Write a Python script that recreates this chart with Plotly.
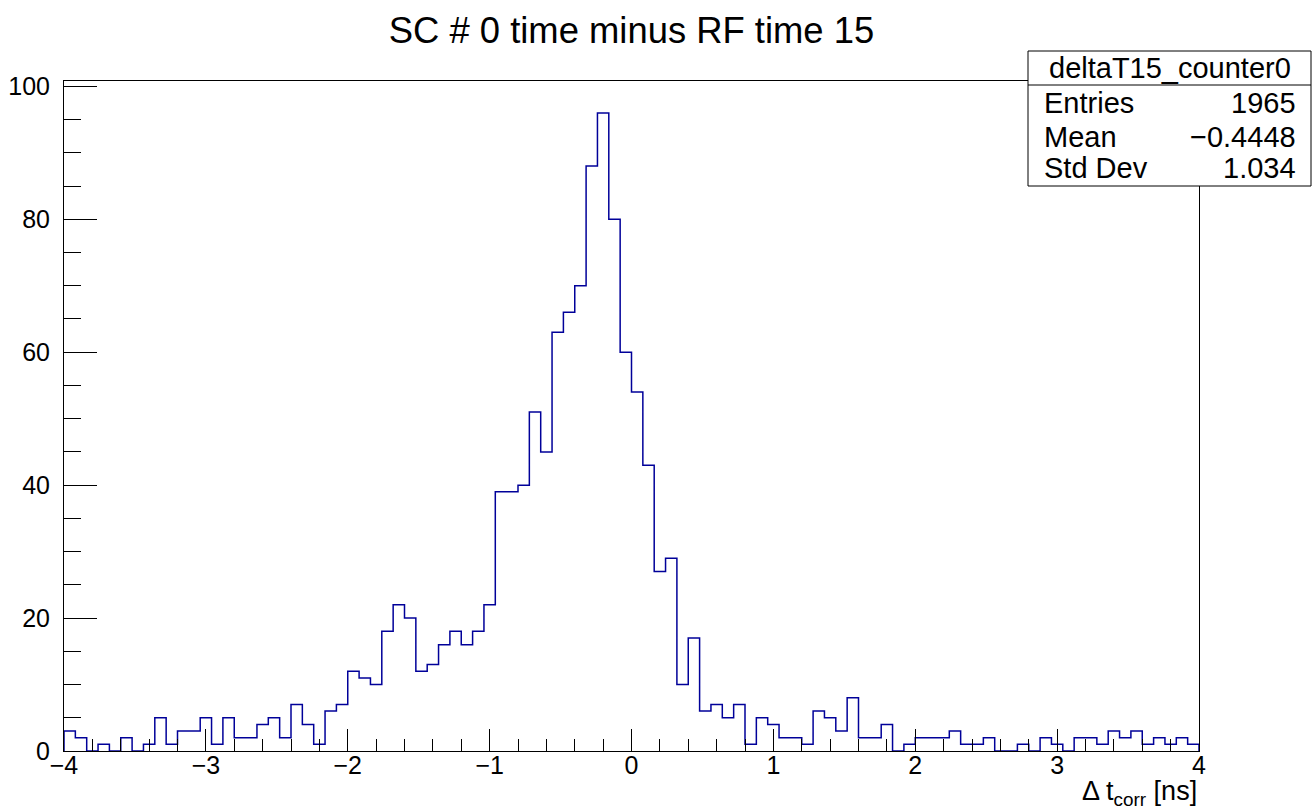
import numpy as np
import plotly.graph_objects as go

# Histogram: 100 bins from -4 to 4 ns
x_min = -4.0
x_max = 4.0
n_bins = 100
counts = [3, 2, 0, 1, 0, 2, 0, 1, 5, 1,
          3, 3, 5, 1, 5, 2, 2, 4, 5, 2,
          7, 4, 1, 6, 7, 12, 11, 10, 18, 22,
          20, 12, 13, 16, 18, 16, 18, 22, 39, 39,
          40, 51, 45, 63, 66, 70, 88, 96, 80, 60,
          54, 43, 27, 29, 10, 17, 6, 7, 5, 7,
          1, 5, 4, 2, 2, 1, 6, 5, 3, 8,
          2, 2, 4, 0, 1, 2, 2, 2, 3, 1,
          1, 2, 0, 0, 1, 0, 2, 1, 0, 2,
          2, 1, 3, 2, 3, 1, 2, 1, 2, 1]

title_text = "SC # 0 time minus RF time 15"
x_title = "Δ t<sub>corr</sub> [ns]"
stats_name = "deltaT15_counter0"
stats_labels = ["Entries", "Mean", "Std Dev"]
stats_values = ["1965", "\u22120.4448", "1.034"]

edges = np.linspace(x_min, x_max, n_bins + 1)
xs = list(edges[:1]) + list(edges) + [edges[-1]]
ys = [0] + list(counts) + [0]

FONT = "Liberation Sans, Arial, Helvetica, sans-serif"

fig = go.Figure()
fig.add_trace(go.Scatter(
    x=xs, y=ys, mode="lines", line=dict(shape="hv", color="#000099", width=1.5),
    hoverinfo="skip", showlegend=False, cliponaxis=False))

ymax = max(counts) * 1.05

fig.update_layout(
    width=1313, height=811,
    margin=dict(l=64, r=114, t=81, b=60, autoexpand=False),
    paper_bgcolor="white", plot_bgcolor="white",
    font=dict(family=FONT, color="black", size=25),
    title=dict(text=title_text, x=631.5 / 1313, xanchor="center",
               y=1 - 30 / 811, yanchor="middle", yref="container", automargin=False,
               font=dict(size=36.4, family=FONT, color="black")),
    showlegend=False,
)
fig.update_xaxes(
    range=[x_min, x_max], showgrid=False, zeroline=False, automargin=False,
    showline=True, linecolor="black", linewidth=1, mirror=True,
    ticks="inside", ticklen=22, tickcolor="black", tickwidth=1,
    tickmode="linear", tick0=-4, dtick=1,
    minor=dict(ticks="inside", ticklen=12, tickcolor="black", tickwidth=1, dtick=0.2, tick0=-4, showgrid=False),
    tickfont=dict(size=25, family=FONT), ticklabelstandoff=-8,
)
fig.update_yaxes(
    range=[0, ymax], showgrid=False, zeroline=False, automargin=False,
    showline=True, linecolor="black", linewidth=1, mirror=True,
    ticks="inside", ticklen=33, tickcolor="black", tickwidth=1,
    tickmode="linear", tick0=0, dtick=20,
    minor=dict(ticks="inside", ticklen=17, tickcolor="black", tickwidth=1, dtick=5, tick0=0, showgrid=False),
    tickfont=dict(size=25, family=FONT), ticklabelstandoff=8,
)

# x-axis title (right aligned)
fig.add_annotation(xref="paper", yref="paper", x=1.0, y=(751 - 793) / 670,
                   xanchor="right", yanchor="middle", text=x_title, showarrow=False,
                   font=dict(size=27, family=FONT, color="black"))

# stats box
def px_x(p):
    return (p - 64) / 1135

def px_y(p):
    return (751 - p) / 670

fig.add_shape(type="rect", xref="paper", yref="paper",
              x0=px_x(1028), x1=px_x(1311), y0=px_y(186), y1=px_y(51),
              line=dict(color="black", width=1), fillcolor="white", layer="above")
fig.add_shape(type="line", xref="paper", yref="paper",
              x0=px_x(1028), x1=px_x(1311), y0=px_y(85), y1=px_y(85),
              line=dict(color="black", width=1), layer="above")
fig.add_annotation(xref="paper", yref="paper", x=px_x(1169.5), y=px_y(68),
                   xanchor="center", yanchor="middle", text=stats_name, showarrow=False,
                   font=dict(size=29, family=FONT, color="black"))
row_y = [103, 137, 168]
for lab, val, ry in zip(stats_labels, stats_values, row_y):
    fig.add_annotation(xref="paper", yref="paper", x=px_x(1042), y=px_y(ry),
                       xanchor="left", yanchor="middle", text=lab, showarrow=False,
                       font=dict(size=29, family=FONT, color="black"))
    fig.add_annotation(xref="paper", yref="paper", x=px_x(1298), y=px_y(ry),
                       xanchor="right", yanchor="middle", text=val, showarrow=False,
                       font=dict(size=29, family=FONT, color="black"))

fig.write_html("out.html", config={"displayModeBar": False},
               post_script="document.body.style.margin='0px';document.body.style.overflow='hidden';")
